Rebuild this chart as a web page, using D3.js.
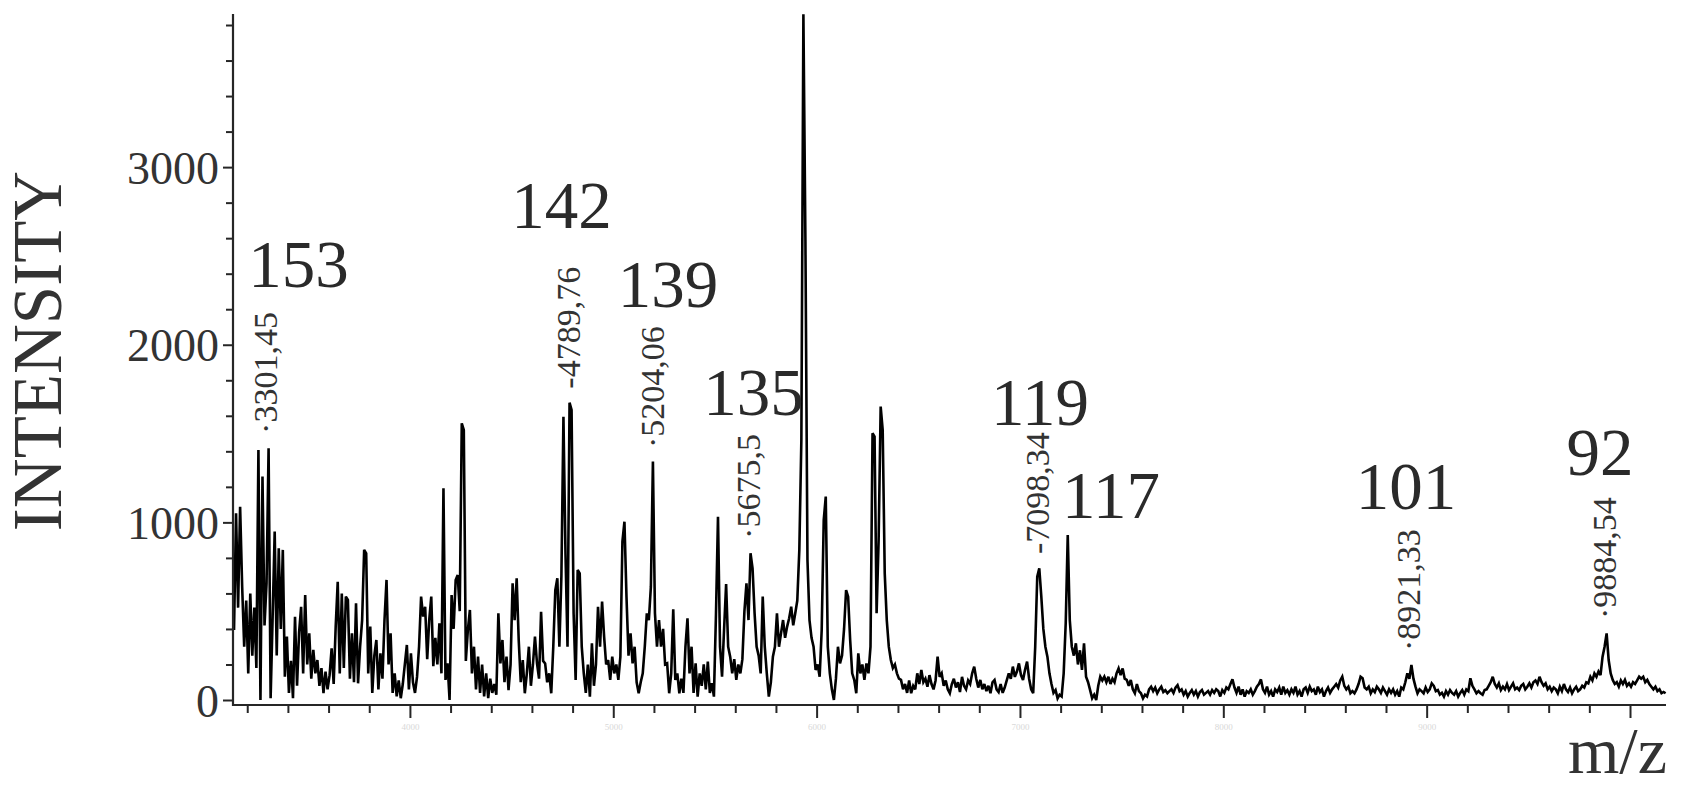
<!DOCTYPE html>
<html><head><meta charset="utf-8">
<script src="https://cdn.jsdelivr.net/npm/d3@7"></script>
<style>
body{margin:0;background:#fff}
svg{display:block}
text{font-family:"Liberation Serif","Times New Roman",serif}
</style>
</head><body>
<svg id="c" width="1681" height="800"></svg>
<script>
// ---------- data ----------
const mzStart = 3135, mzStep = 10;          // sampling grid of the spectrum (m/z)
const intensity = [
394,1051,520,1088,640,300,560,150,600,250,
520,180,1408,0,1258,420,657,1417,10,470,
948,250,854,400,845,131,357,40,220,10,
469,80,380,525,150,591,200,375,120,282,
150,225,80,180,38,160,60,140,291,90,
413,666,150,600,180,582,563,120,375,100,
544,94,300,450,845,826,150,413,40,250,
338,60,263,120,450,676,200,375,40,150,
20,110,10,90,200,310,60,263,100,40,
130,300,582,470,525,230,450,582,190,350,
200,432,150,1192,113,206,0,591,400,676,
704,500,1558,1520,220,394,507,150,300,60,
244,40,200,20,150,10,120,40,90,30,
488,206,338,100,244,56,200,657,450,685,
338,100,225,38,150,300,80,200,357,206,
120,497,220,206,100,150,38,300,619,685,
300,700,1595,826,300,1674,1633,488,113,732,
713,300,150,40,200,19,319,80,200,525,
300,554,357,200,225,113,244,150,200,113,
244,892,1004,582,250,375,206,300,100,38,
100,150,300,488,450,638,1342,488,300,450,
300,400,200,206,38,150,510,113,150,38,
120,40,300,460,150,300,40,206,19,150,
80,200,60,216,40,94,19,479,1032,300,
131,400,653,300,244,150,230,113,200,150,
230,500,657,450,826,741,488,300,250,150,
582,300,150,19,100,244,300,488,300,375,
450,350,413,460,525,420,488,560,845,1464,
3860,2580,788,450,350,300,169,200,131,394,
1013,1145,300,150,60,0,120,300,206,250,
400,619,582,338,150,113,38,263,150,200,
113,206,150,300,1502,1483,488,901,1652,1520,
713,450,300,225,180,200,150,120,113,60,
90,40,110,38,80,60,150,90,169,100,
120,75,140,90,60,110,244,130,150,80,
110,60,38,90,120,70,100,45,130,80,
60,110,90,150,188,120,70,113,60,90,
50,80,38,100,113,60,45,90,40,70,
110,150,120,188,130,160,206,140,113,170,
216,120,60,38,300,694,741,582,400,300,
244,150,90,40,56,9,30,20,150,432,
929,450,300,250,319,200,280,169,319,131,
100,56,10,30,0,80,131,110,131,100,
131,90,120,100,150,178,140,178,120,113,
80,113,60,38,90,50,38,9,30,20,
60,75,50,70,38,60,75,45,55,38,
50,60,40,70,84,50,60,30,50,19,
40,56,30,50,19,45,56,30,40,50,
30,56,40,60,50,20,56,40,70,60,
90,116,70,40,75,30,60,19,50,40,
60,30,50,75,90,116,60,40,75,30,
50,19,60,45,70,30,75,40,55,30,
60,40,75,30,50,19,60,70,40,75,
50,60,30,75,45,60,19,50,70,40,
60,75,90,70,110,131,80,60,75,38,
50,38,60,90,131,122,70,60,75,38,
60,45,75,60,40,70,50,30,60,40,
60,30,50,19,70,60,100,150,120,197,
120,75,38,60,50,38,70,45,60,94,
80,50,56,30,40,19,50,30,56,40,
30,50,19,40,56,30,60,50,122,80,
60,38,50,38,30,56,60,80,100,131,
90,70,94,56,75,60,90,56,75,94,
60,70,56,80,90,60,75,94,70,100,
110,90,131,100,80,94,60,75,50,70,
60,38,75,50,90,60,45,70,38,60,
75,50,60,80,70,100,94,131,110,150,
131,160,140,244,300,375,225,150,113,90,
100,75,110,90,113,80,94,75,100,90,
110,131,120,131,100,113,90,75,60,75,
50,60,38,45,38
];

// labelled peaks (m/z value, apex intensity, printed text)
const peakMz   = [3301.45, 4789.76, 5204.06, 5675.5, 7098.34, 8921.33, 9884.54];
const peakTop  = [1419, 1674, 1340, 828, 743, 197, 377];
const peakText = ["·3301,45", "-4789,76", "·5204,06", "·5675,5", "-7098,34", "·8921,33", "·9884,54"];

// large annotation numbers (anchor in data space: m/z, intensity)
const bigText = ["153", "142", "139", "135", "119", "117", "101", "92"];
const bigMz   = [3452, 4746, 5269, 5690, 7099, 7448, 8899, 9853];
const bigInt  = [2325, 2658, 2215, 1605, 1548, 1025, 1075, 1267];

// axes
const mzDomain = [3130, 10177];
const intDomain = [0, 3862];
const yLabelTicks = [0, 1000, 2000, 3000];
const xMajorTicks = [4000, 5000, 6000, 7000, 8000, 9000, 10000];
const xFaintLabels = [4000, 5000, 6000, 7000, 8000, 9000];   // barely visible in the original
const yTitle = "INTENSITY";
const xTitle = "m/z";

// ---------- drawing ----------
const svg = d3.select("#c");
const ink = "#262626";
const x = d3.scaleLinear().domain(mzDomain).range([233, 1666]);
const y = d3.scaleLinear().domain(intDomain).range([700, 14]);
const axisY = 705;

// spectrum
const line = d3.line()
  .x((d, i) => x(mzStart + i * mzStep))
  .y(d => y(d));
svg.append("path")
  .datum(intensity)
  .attr("d", line)
  .attr("fill", "none")
  .attr("stroke", "#000")
  .attr("stroke-width", 2.6)
  .attr("stroke-linejoin", "miter")
  .attr("stroke-miterlimit", 3);

// y axis
const yMinor = d3.range(200, 3801, 200).filter(v => !yLabelTicks.includes(v));
const gy = svg.append("g").attr("transform", "translate(233,0)");
gy.call(d3.axisLeft(y).tickValues(yMinor).tickSize(7).tickFormat(""))
  .call(g => g.select(".domain").remove());
gy.selectAll(".tick line").attr("stroke", ink).attr("stroke-width", 2);
const gy2 = svg.append("g").attr("transform", "translate(233,0)");
gy2.call(d3.axisLeft(y).tickValues(yLabelTicks).tickSize(10).tickPadding(4).tickFormat(d3.format("d")))
  .call(g => g.select(".domain").remove());
gy2.selectAll(".tick line").attr("stroke", ink).attr("stroke-width", 2);
gy2.selectAll(".tick text")
  .attr("x", -14).attr("dy", "16px")
  .attr("font-family", "Liberation Serif")
  .attr("font-size", 46).attr("fill", "#333");
svg.append("line")
  .attr("x1", x(mzDomain[0])).attr("x2", x(mzDomain[0]))
  .attr("y1", y(intDomain[1])).attr("y2", axisY + 1)
  .attr("stroke", ink).attr("stroke-width", 2.2);

// x axis
const xMinor = d3.range(3200, 10101, 200).filter(v => !xMajorTicks.includes(v));
const gx = svg.append("g").attr("transform", `translate(0,${axisY})`);
gx.call(d3.axisBottom(x).tickValues(xMinor).tickSize(8).tickFormat(""))
  .call(g => g.select(".domain").remove());
gx.selectAll(".tick line").attr("stroke", ink).attr("stroke-width", 2);
const gx2 = svg.append("g").attr("transform", `translate(0,${axisY})`);
gx2.call(d3.axisBottom(x).tickValues(xMajorTicks).tickSize(13).tickPadding(6)
    .tickFormat(d => xFaintLabels.includes(d) ? d3.format("d")(d) : ""))
  .call(g => g.select(".domain").remove());
gx2.selectAll(".tick line").attr("stroke", ink).attr("stroke-width", 2);
gx2.selectAll(".tick text")
  .attr("font-family", "Liberation Serif")
  .attr("font-size", 9).attr("fill", "#d8d8d8");
svg.append("line")
  .attr("x1", x(mzDomain[0]) - 1).attr("x2", x(mzDomain[1]))
  .attr("y1", axisY).attr("y2", axisY)
  .attr("stroke", ink).attr("stroke-width", 2.2);

// axis titles
svg.append("text")
  .attr("transform", "translate(61,351) rotate(-90)")
  .attr("text-anchor", "middle")
  .attr("font-size", 69).attr("fill", "#333")
  .text(yTitle);
svg.append("text")
  .attr("x", 1667).attr("y", 773)
  .attr("text-anchor", "end")
  .attr("font-size", 66).attr("fill", "#333")
  .text(xTitle);

// peak value labels (rotated)
svg.append("g").selectAll("text")
  .data(peakMz)
  .join("text")
  .attr("transform", (d, i) => `translate(${x(d) + 9},${y(peakTop[i]) - 14}) rotate(-90)`)
  .attr("font-size", 34).attr("fill", "#333")
  .text((d, i) => peakText[i]);

// big numbers
svg.append("g").selectAll("text")
  .data(bigText)
  .join("text")
  .attr("x", (d, i) => x(bigMz[i]))
  .attr("y", (d, i) => y(bigInt[i]))
  .attr("text-anchor", "middle")
  .attr("font-size", 67).attr("fill", "#2a2a2a")
  .text(d => d);
</script>
</body></html>
